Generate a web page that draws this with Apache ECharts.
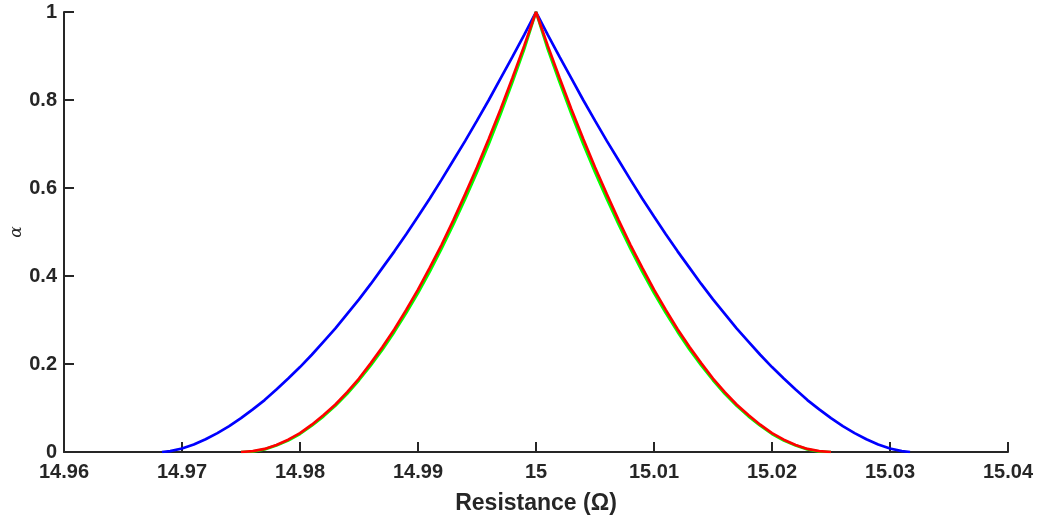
<!DOCTYPE html>
<html>
<head>
<meta charset="utf-8">
<script src="https://cdn.jsdelivr.net/npm/echarts@6/dist/echarts.min.js"></script>
<style>
  html, body { margin: 0; padding: 0; background: #fff; }
  #chart { width: 1040px; height: 519px; }
</style>
</head>
<body>
<div id="chart"></div>
<script>
// alpha-cut curves
var blueX = [14.9683, 14.969, 14.970, 14.971, 14.972, 14.973, 14.974, 14.975, 14.976, 14.977,
    14.978, 14.979, 14.980, 14.981, 14.982, 14.983, 14.984, 14.985, 14.986, 14.987,
    14.988, 14.989, 14.990, 14.991, 14.992, 14.993, 14.994, 14.995, 14.996, 14.997,
    14.998, 14.999, 15.000, 15.001, 15.002, 15.003, 15.004, 15.005, 15.006, 15.007,
    15.008, 15.009, 15.010, 15.011, 15.012, 15.013, 15.014, 15.015, 15.016, 15.017,
    15.018, 15.019, 15.020, 15.021, 15.022, 15.023, 15.024, 15.025, 15.026, 15.027,
    15.028, 15.029, 15.030, 15.031, 15.0317];
var blueY = [0, 0.002, 0.008, 0.017, 0.029, 0.043, 0.059, 0.077, 0.097, 0.118,
    0.142, 0.167, 0.193, 0.221, 0.251, 0.281, 0.314, 0.347, 0.382, 0.419,
    0.456, 0.495, 0.535, 0.576, 0.619, 0.663, 0.707, 0.753, 0.800, 0.849,
    0.898, 0.948, 1, 0.948, 0.898, 0.849, 0.800, 0.753, 0.707, 0.663,
    0.619, 0.576, 0.535, 0.495, 0.456, 0.419, 0.382, 0.347, 0.314, 0.281,
    0.251, 0.221, 0.193, 0.167, 0.142, 0.118, 0.097, 0.077, 0.059, 0.043,
    0.029, 0.017, 0.008, 0.002, 0];

var redX = [14.975, 14.976, 14.977, 14.978, 14.979, 14.980, 14.981, 14.982, 14.983, 14.984,
    14.985, 14.986, 14.987, 14.988, 14.989, 14.990, 14.991, 14.992, 14.993, 14.994,
    14.995, 14.996, 14.997, 14.998, 14.999, 15.000, 15.001, 15.002, 15.003, 15.004,
    15.005, 15.006, 15.007, 15.008, 15.009, 15.010, 15.011, 15.012, 15.013, 15.014,
    15.015, 15.016, 15.017, 15.018, 15.019, 15.020, 15.021, 15.022, 15.023, 15.024,
    15.025];
var redY = [0, 0.002, 0.007, 0.016, 0.028, 0.043, 0.062, 0.084, 0.108, 0.136,
    0.167, 0.202, 0.239, 0.279, 0.323, 0.369, 0.419, 0.471, 0.527, 0.586,
    0.647, 0.712, 0.779, 0.850, 0.923, 1, 0.923, 0.850, 0.779, 0.712,
    0.647, 0.586, 0.527, 0.471, 0.419, 0.369, 0.323, 0.279, 0.239, 0.202,
    0.167, 0.136, 0.108, 0.084, 0.062, 0.043, 0.028, 0.016, 0.007, 0.002,
    0];
var greenY = [0, 0.001, 0.006, 0.015, 0.026, 0.041, 0.060, 0.081, 0.105, 0.132,
    0.163, 0.197, 0.233, 0.273, 0.316, 0.361, 0.410, 0.462, 0.517, 0.575,
    0.636, 0.700, 0.768, 0.840, 0.915, 1, 0.915, 0.840, 0.768, 0.700,
    0.636, 0.575, 0.517, 0.462, 0.410, 0.361, 0.316, 0.273, 0.233, 0.197,
    0.163, 0.132, 0.105, 0.081, 0.060, 0.041, 0.026, 0.015, 0.006, 0.001,
    0];

function pairs(xs, ys) {
    return xs.map(function (x, i) { return [x, ys[i]]; });
}

var axisColor = '#262626';
var font = '"Liberation Sans", Arial, Helvetica, sans-serif';

var chart = echarts.init(document.getElementById('chart'));
chart.setOption({
    animation: false,
    grid: { left: 64, right: 32, top: 12, bottom: 67, containLabel: false, outerBoundsMode: 'none' },
    xAxis: {
        type: 'value',
        min: 14.96,
        max: 15.04,
        interval: 0.01,
        name: 'Resistance (Ω)',
        nameLocation: 'middle',
        nameGap: 40,
        nameMoveOverlap: false,
        nameTextStyle: { color: axisColor, fontSize: 23, fontWeight: 'bold', fontFamily: font },
        axisLine: { lineStyle: { color: axisColor, width: 2 } },
        axisTick: { inside: true, length: 10, lineStyle: { color: axisColor, width: 2 } },
        axisLabel: {
            color: axisColor, fontSize: 20, fontWeight: 'bold', fontFamily: font, margin: 10,
            formatter: function (v) { return String(parseFloat(v.toFixed(2))); }
        },
        splitLine: { show: false }
    },
    yAxis: {
        type: 'value',
        min: 0,
        max: 1,
        interval: 0.2,
        name: 'α',
        nameLocation: 'middle',
        nameGap: 39,
        nameRotate: 90,
        nameMoveOverlap: false,
        nameTextStyle: { color: axisColor, fontSize: 17, fontStyle: 'italic', fontFamily: '"DejaVu Serif", serif' },
        axisLine: { show: true, lineStyle: { color: axisColor, width: 2 } },
        axisTick: { show: true, inside: true, length: 10, lineStyle: { color: axisColor, width: 2 } },
        axisLabel: {
            color: axisColor, fontSize: 20, fontWeight: 'bold', fontFamily: font, margin: 7,
            formatter: function (v) { return String(parseFloat(v.toFixed(1))); }
        },
        splitLine: { show: false }
    },
    series: [
        {
            type: 'line', data: pairs(blueX, blueY), showSymbol: false,
            lineStyle: { color: '#0000ff', width: 2.7 }, itemStyle: { color: '#0000ff' }
        },
        {
            type: 'line', data: pairs(redX, greenY), showSymbol: false,
            lineStyle: { color: '#00ff00', width: 2.7 }, itemStyle: { color: '#00ff00' }
        },
        {
            type: 'line', data: pairs(redX, redY), showSymbol: false,
            lineStyle: { color: '#ff0000', width: 2.7 }, itemStyle: { color: '#ff0000' }
        }
    ]
});
</script>
</body>
</html>
